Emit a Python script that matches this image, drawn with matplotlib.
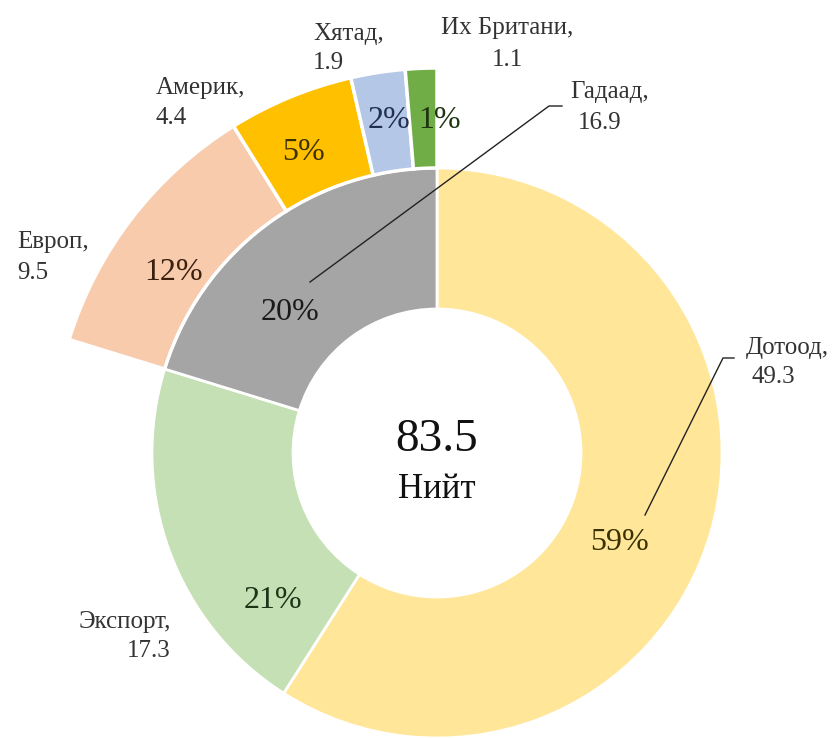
import matplotlib
matplotlib.use("Agg")
import matplotlib.pyplot as plt

# inner ring
inner_names = ['Дотоод', 'Экспорт', 'Гадаад']
inner_vals = [49.3, 17.3, 16.9]
inner_pct = ['59%', '21%', '20%']
inner_colors = ['#FFE699', '#C5E0B4', '#A5A5A5']
inner_txt = ['#3a3000', '#1f3316', '#1a1a1a']

# outer ring (breakdown of Гадаад)
outer_names = ['Европ', 'Америк', 'Хятад', 'Их Британи']
outer_vals = [9.5, 4.4, 1.9, 1.1]
outer_pct = ['12%', '5%', '2%', '1%']
outer_colors = ['#F8CBAD', '#FFC000', '#B4C7E7', '#70AD47']
outer_txt = ['#3b2010', '#3f3000', '#1f3050', '#1e3510']

total = sum(inner_vals)

W, H = 840, 738
fig = plt.figure(figsize=(W / 100, H / 100), dpi=100)
ax = fig.add_axes([0, 0, 1, 1])

cx, cy = 437, H - 453
r_in, r_mid, r_out = 144, 285, 385
serif = 'Liberation Serif'

ax.pie(inner_vals, radius=r_mid, center=(cx, cy), startangle=90,
       counterclock=False, colors=inner_colors,
       wedgeprops=dict(width=r_mid - r_in, edgecolor='white', linewidth=2))

# hidden first wedge so the outer slices sit over Гадаад
hidden = inner_vals[0] + inner_vals[1]
wedges, _ = ax.pie([hidden] + outer_vals, radius=r_out, center=(cx, cy),
                   startangle=90, counterclock=False,
                   colors=['none'] + outer_colors,
                   wedgeprops=dict(width=r_out - r_mid, edgecolor='white',
                                   linewidth=2.5))
wedges[0].set_edgecolor('none')

ax.set_xlim(0, W)
ax.set_ylim(0, H)
ax.set_aspect('equal')
ax.axis('off')

def Y(y):
    return H - y

# centre text
ax.text(cx, Y(440), f'{total:.1f}', ha='center', va='center',
        fontsize=34, family=serif, color='#111111')
ax.text(cx, Y(490), 'Нийт', ha='center', va='center',
        fontsize=25, family=serif, color='#111111')

# percent labels
pct_pos_inner = [(620, 543), (273, 600), (290, 313)]
for (x, y), t, c in zip(pct_pos_inner, inner_pct, inner_txt):
    ax.text(x, Y(y), t, ha='center', va='center', fontsize=23,
            family=serif, color=c)
pct_pos_outer = [(174, 272), (303, 152), (389, 120), (440, 120)]
for (x, y), t, c in zip(pct_pos_outer, outer_pct, outer_txt):
    ax.text(x, Y(y), t, ha='center', va='center', fontsize=23,
            family=serif, color=c)

# category labels: name, value
lab_col = '#333333'
lab_fs = 18
labels = [
    # name, value, x, y_name, y_value, ha
    (inner_names[0], inner_vals[0], 746, 348, 377, 'left'),
    (inner_names[1], inner_vals[1], 171, 622, 651, 'right'),
    (inner_names[2], inner_vals[2], 570, 92, 123, 'left'),
    (outer_names[0], outer_vals[0], 17, 242, 273, 'left'),
    (outer_names[1], outer_vals[1], 156, 88, 118, 'left'),
    (outer_names[2], outer_vals[2], 313, 34, 63, 'left'),
    (outer_names[3], outer_vals[3], 507, 28, 60, 'center'),
]
for name, val, x, yn, yv, ha in labels:
    xv = x
    if name == 'Гадаад':
        xv = x + 8
    if name == 'Дотоод':
        xv = x + 6
    ax.text(x, Y(yn), name + ',', ha=ha, va='center', fontsize=lab_fs,
            family=serif, color=lab_col)
    ax.text(xv, Y(yv), f'{val}', ha=ha, va='center', fontsize=lab_fs,
            family=serif, color=lab_col)

# leader lines
ax.plot([310, 549, 562], [Y(282), Y(106), Y(106)], color='#222222', lw=1)
ax.plot([645, 723, 734], [Y(515), Y(358), Y(358)], color='#222222', lw=1)

fig.savefig('out.png', dpi=100)
